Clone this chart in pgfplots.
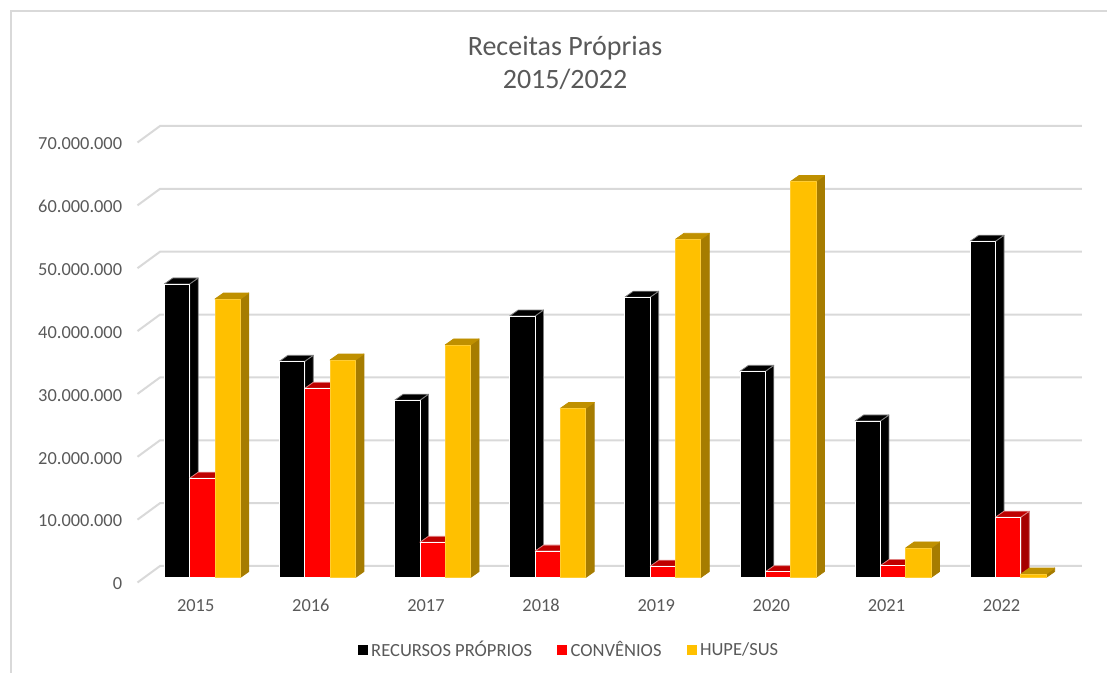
\documentclass[border=0pt]{standalone}
\usepackage{fontspec}
\setmainfont{Carlito}
\usepackage{pgfplots}
\usepackage{pgfplotstable}
\pgfplotsset{compat=1.18}

\definecolor{gridgray}{HTML}{D9D9D9}
\definecolor{txtgray}{HTML}{595959}
\definecolor{amarelo}{HTML}{FFC000}
\definecolor{amarelotop}{HTML}{BF9000}
\definecolor{amareloside}{HTML}{A67C00}
\definecolor{vermelhotop}{HTML}{BF0000}
\definecolor{vermelhoside}{HTML}{A60000}

% valores em milhoes de R$
\pgfplotstableread{
ano rp conv hupe
2015 46.7 15.8 44.3
2016 34.4 30.1 34.6
2017 28.2 5.6 37.0
2018 41.6 4.2 26.9
2019 44.6 1.8 53.8
2020 32.8 0.9 63.0
2021 24.9 1.9 4.7
2022 53.5 9.6 0.55
}\receitas

% 1 px of the reference = 0.75pt
\newcommand{\barwidth}{0.22}
\newcommand{\depthx}{0.074}
\newcommand{\depthy}{0.954}
\newcommand{\basey}{0.795}

% #1 left edge, #2 value, #3 front, #4 top, #5 side, #6 edge of the front, #7 mix of top/side edges
\newcommand{\threedbar}[7]{%
  \pgfmathsetmacro{\xa}{#1}%
  \pgfmathsetmacro{\xb}{#1+\barwidth}%
  \pgfmathsetmacro{\xc}{#1+\barwidth+\depthx}%
  \pgfmathsetmacro{\xd}{#1+\depthx}%
  \pgfmathsetmacro{\ya}{\basey}%
  \pgfmathsetmacro{\yb}{\basey+#2}%
  \pgfmathsetmacro{\yc}{\basey+#2+\depthy}%
  \pgfmathsetmacro{\ye}{\basey+\depthy}%
  \edef\temp{%
    \noexpand\addplot[forget plot,fill=#5,draw=#5!#7!white,line width=0.6pt,line join=round] coordinates {(\xb,\ya)(\xc,\ye)(\xc,\yc)(\xb,\yb)} -- cycle;
    \noexpand\addplot[forget plot,fill=#4,draw=#4!#7!white,line width=0.6pt,line join=round] coordinates {(\xa,\yb)(\xb,\yb)(\xc,\yc)(\xd,\yc)} -- cycle;
    \noexpand\addplot[forget plot,fill=#3,draw=#6,line width=0.6pt,line join=round] coordinates {(\xa,\ya)(\xb,\ya)(\xb,\yb)(\xa,\yb)} -- cycle;
  }\temp
}

\begin{document}
\begin{tikzpicture}
\useasboundingbox (0,0) rectangle (830.25pt,504.75pt);
\draw[gridgray,line width=1.5pt] (8pt,0) -- (8pt,496.5pt) -- (830.25pt,496.5pt);
\begin{axis}[
    at={(103.125pt,67.875pt)},
    anchor=south west,
    scale only axis,
    width=690.75pt,
    height=330pt,
    xmin=-0.5, xmax=7.5,
    ymin=0, ymax=70,
    clip=false,
    axis line style={draw=none},
    tick style={draw=none},
    xtick={0,1,2,3,4,5,6,7},
    xticklabels={2015,2016,2017,2018,2019,2020,2021,2022},
    ytick={0,10,20,30,40,50,60,70},
    yticklabels={0,10.000.000,20.000.000,30.000.000,40.000.000,50.000.000,60.000.000,70.000.000},
    ticklabel style={font=\fontsize{13.8pt}{15pt}\selectfont,text=txtgray},
    xticklabel style={yshift=-9pt,xshift=0.5pt},
    yticklabel style={xshift=-8pt,yshift=-1pt},
    legend columns=3,
    legend style={
        at={(0.469,-0.1534)},
        anchor=center,
        draw=none,
        fill=none,
        font=\fontsize{13.9pt}{15pt}\selectfont,
        text=txtgray,
        /tikz/every even column/.append style={column sep=17pt},
    },
    legend image code/.code={\fill[#1] (0pt,-3pt) rectangle (6.5pt,3.25pt);\path (7.5pt,0pt);},
]
% gridlines on the back wall
\pgfplotsforeachungrouped \v in {0,10,...,70}{
    \pgfmathsetmacro{\vb}{\v+2.625}
    \edef\temp{\noexpand\addplot[forget plot,gridgray,line width=1.5pt] coordinates {(-0.5,\v)(-0.3043,\vb)(7.704,\vb)};}
    \temp
}
% bars
\pgfplotsforeachungrouped \i in {0,...,7}{
    \pgfplotstablegetelem{\i}{rp}\of\receitas
    \let\vrp\pgfplotsretval
    \pgfplotstablegetelem{\i}{conv}\of\receitas
    \let\vconv\pgfplotsretval
    \pgfplotstablegetelem{\i}{hupe}\of\receitas
    \let\vhupe\pgfplotsretval
    \threedbar{\i-0.267}{\vrp}{black}{black}{black}{white}{50}
    \threedbar{\i-0.047}{\vconv}{red}{vermelhotop}{vermelhoside}{white}{50}
    \threedbar{\i+0.173}{\vhupe}{amarelo}{amarelotop}{amareloside}{amarelo!80!white}{100}
}
\addlegendimage{black}
\addlegendentry{RECURSOS PRÓPRIOS}
\addlegendimage{red}
\addlegendentry{CONVÊNIOS}
\addlegendimage{amarelo}
\addlegendentry{HUPE/SUS}
\end{axis}
\node[text=txtgray,font=\fontsize{21pt}{25pt}\selectfont,align=center] at (423.75pt,457.5pt) {Receitas Próprias\\2015/2022};
\end{tikzpicture}
\end{document}
